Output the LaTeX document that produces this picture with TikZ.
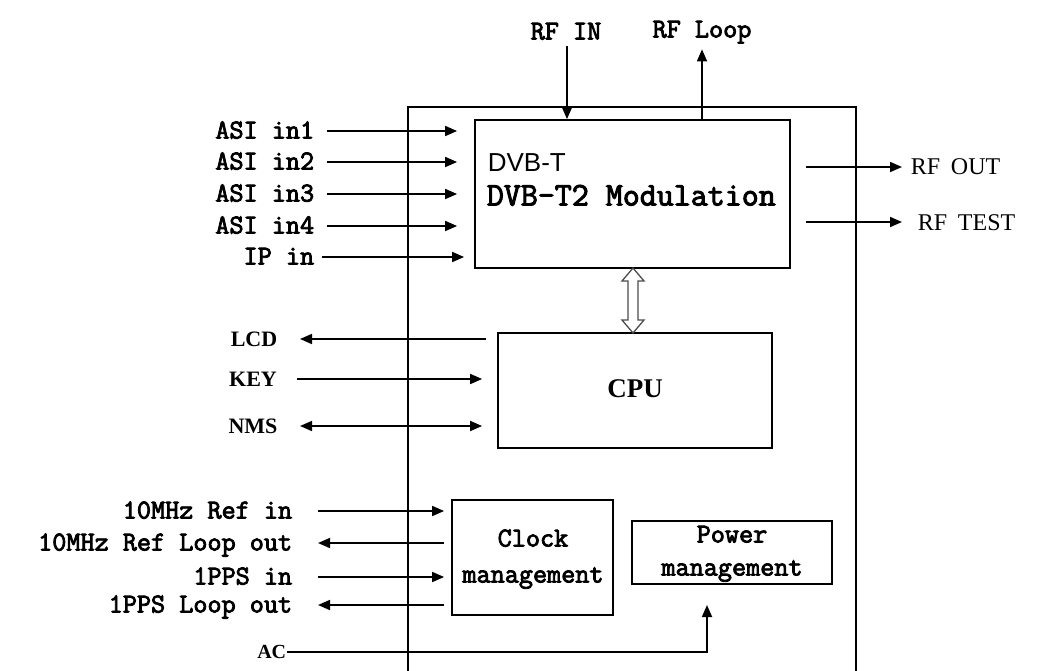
\documentclass[tikz,border=0pt]{standalone}
\usepackage{fontspec}
\setmainfont{Liberation Serif}
\newfontfamily\monof[FakeBold=3]{Latin Modern Mono}
\newfontfamily\sansf{Liberation Sans}
\usetikzlibrary{arrows.meta}
\begin{document}
\begin{tikzpicture}[x=1pt,y=-1pt,
  line width=1.7pt,
  arr/.style={-{Triangle[length=12pt,width=10pt]}},
  darr/.style={{Triangle[length=12pt,width=10pt]}-{Triangle[length=12pt,width=10pt]}},
  box/.style={draw, line width=1.8pt, inner sep=0pt},
  mlab/.style={font=\monof\fontsize{27.4}{29}\selectfont, inner sep=0pt, text height=15pt, text depth=0pt},
  slab/.style={font=\bfseries\fontsize{22}{24}\selectfont, inner sep=0pt, text height=14.5pt, text depth=0pt},
  rlab/.style={font=\fontsize{24}{26}\selectfont, inner sep=0pt, text height=16pt, text depth=0pt},
]
\useasboundingbox (0,0) rectangle (1048,671);

% outer frame
\coordinate (fbl) at (408,671);
\coordinate (ftl) at (408,107);
\coordinate (ftr) at (856,107);
\coordinate (fbr) at (856,671);
\draw[line width=1.7pt] (fbl) -- (ftl) -- (ftr) -- (fbr);

% boxes
\node[box, minimum width=315pt, minimum height=148pt] (dvb) at (632.5,194) {};
\node[box, minimum width=274pt, minimum height=115pt] (cpu) at (635,390.5) {};
\node[box, minimum width=161pt, minimum height=115pt] (clk) at (532.5,557.5) {};
\node[box, minimum width=200pt, minimum height=63pt] (pwr) at (732,552.5) {};

% box texts
\node[font=\sansf\fontsize{26}{28}\selectfont, inner sep=0pt, text height=18.6pt, text depth=0pt, anchor=west] (tdvbt) at (487,162) {DVB-T};
\node[font=\monof\fontsize{33}{35}\selectfont, inner sep=0pt, text height=19pt, text depth=0pt, anchor=west] (tmod) at (486,196) {DVB-T2 Modulation};
\node[font=\bfseries\fontsize{27}{29}\selectfont, inner sep=0pt, text height=18pt, text depth=0pt] (tcpu) at (635,388) {CPU};
\node[mlab] (tclk1) at (533,539) {Clock};
\node[mlab] (tclk2) at (533,575) {management};
\node[mlab] (tpwr1) at (732,535) {Power};
\node[mlab] (tpwr2) at (732,568) {management};

% top labels
\node[mlab] (rfin) at (566,32) {RF IN};
\node[mlab] (rfloop) at (702,30) {RF Loop};
\draw[arr] (rfin.south) ++(1,0) coordinate (rfinS) (rfinS) -- (rfinS |- dvb.north) [shorten <=6pt];
\draw[arr, shorten >=11pt] (rfloop.south |- dvb.north) -- (rfloop.south);

% left inputs to DVB
\node[mlab, anchor=east] (asi1) at (315,131) {ASI in1};
\node[mlab, anchor=east] (asi2) at (315,162) {ASI in2};
\node[mlab, anchor=east] (asi3) at (315,194) {ASI in3};
\node[mlab, anchor=east] (asi4) at (315,226) {ASI in4};
\node[mlab, anchor=east] (ipin) at (315,257) {IP in};
\foreach \n in {asi1,asi2,asi3,asi4}
  \draw[arr, shorten <=12pt, shorten >=17pt] (\n.east) -- (\n.east -| dvb.west);
\draw[arr, shorten <=7pt, shorten >=10pt] (ipin.east) -- (ipin.east -| dvb.west);

% RF outputs
\node[rlab, anchor=west] (rfout) at (910,167) {RF\hspace{0.45em}OUT};
\node[rlab, anchor=west] (rftest) at (917,222) {RF\hspace{0.45em}TEST};
\draw[arr, shorten <=15pt, shorten >=8pt] (rfout.west -| dvb.east) -- (rfout.west);
\draw[arr, shorten <=15pt, shorten >=15pt] (rftest.west -| dvb.east) -- (rftest.west);

% dual hollow arrow DVB <-> CPU
\coordinate (bt) at (633,268);
\coordinate (bb) at (633,333);
\filldraw[fill=white, draw=black!70, line width=1.3pt]
  (bt) -- ++(11,13) -- ++(-6,0) -- ++(0,39) -- ++(6,0) -- (bb)
  -- ++(-11,-13) -- ++(6,0) -- ++(0,-39) -- ++(-6,0) -- cycle;

% CPU side
\node[slab] (lcd) at (254,339) {LCD};
\node[slab] (key) at (253,379) {KEY};
\node[slab] (nms) at (253,426) {NMS};
\coordinate (lcdE) at (300,339);
\coordinate (keyE) at (297,379);
\coordinate (nmsE) at (300,426);
\draw[arr, shorten <=11pt] (lcdE -| cpu.west) -- (lcdE);
\draw[arr, shorten >=15pt] (keyE) -- (keyE -| cpu.west);
\draw[darr, shorten >=15pt] (nmsE) -- (nmsE -| cpu.west);

% clock side
\node[mlab, anchor=east] (ref) at (293,511) {10MHz Ref in};
\node[mlab, anchor=east] (refl) at (293,543) {10MHz Ref Loop out};
\node[mlab, anchor=east] (pps) at (293,577) {1PPS in};
\node[mlab, anchor=east] (ppsl) at (293,605) {1PPS Loop out};
\coordinate (refE) at (318,511);
\coordinate (reflE) at (318,543);
\coordinate (ppsE) at (318,577);
\coordinate (ppslE) at (318,605);
\draw[arr, shorten >=7pt] (refE) -- (refE -| clk.west);
\draw[arr, shorten <=7pt] (reflE -| clk.west) -- (reflE);
\draw[arr, shorten >=7pt] (ppsE) -- (ppsE -| clk.west);
\draw[arr, shorten <=7pt] (ppslE -| clk.west) -- (ppslE);

% AC
\node[font=\bfseries\fontsize{20}{22}\selectfont, inner sep=0pt, text height=13.5pt, text depth=0pt, anchor=east] (ac) at (287,652) {AC};
\coordinate (acT) at (707,605);
\draw[arr] (ac.east) -| (acT);
\end{tikzpicture}
\end{document}
